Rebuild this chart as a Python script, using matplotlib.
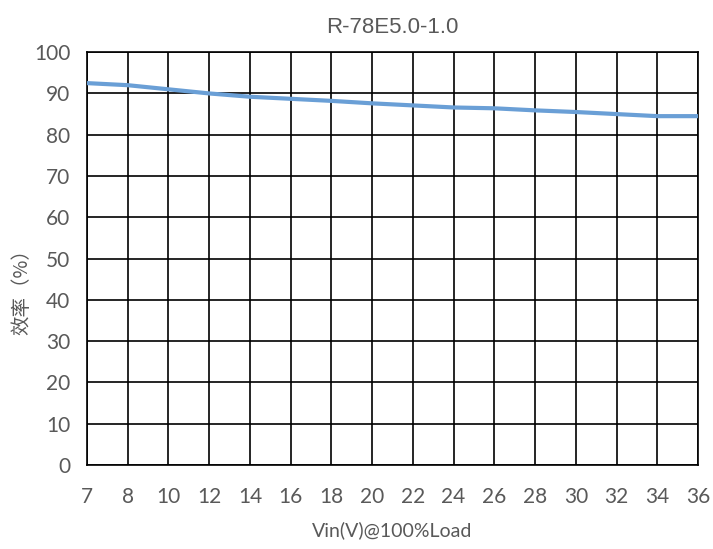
import numpy as np
import matplotlib.pyplot as plt

plt.rcParams['font.family'] = ['Lato', 'Noto Sans CJK SC', 'DejaVu Sans']

# 数据
vin_labels = ['7', '8', '10', '12', '14', '16', '18', '20', '22', '24', '26', '28', '30', '32', '34', '36']
efficiency = [92.5, 92.0, 91.0, 90.0, 89.2, 88.7, 88.2, 87.6, 87.1, 86.6, 86.4, 85.9, 85.5, 85.0, 84.5, 84.5]
y_ticks = list(range(0, 101, 10))

fig = plt.figure(figsize=(7.13, 5.49), dpi=100)
ax = fig.add_axes([0.122, 0.153, 0.857, 0.752])

x = np.arange(len(vin_labels))
ax.plot(x, efficiency, color='#6a9fd6', linewidth=3, solid_capstyle='round', zorder=3)

ax.set_xlim(0, len(vin_labels) - 1)
ax.set_ylim(0, 100)
ax.set_xticks(x)
ax.set_xticklabels(vin_labels)
ax.set_yticks(y_ticks)
ax.grid(True, color='black', linewidth=1.2)
for s in ax.spines.values():
    s.set_color('black')
    s.set_linewidth(1.2)
ax.tick_params(length=0, colors='#595959', labelsize=15, pad=12)
ax.tick_params(axis='x', pad=16)

ax.set_title('R-78E5.0-1.0', color='#595959', fontsize=16, pad=14,
             family=['Liberation Sans', 'DejaVu Sans'])
ax.set_xlabel('Vin(V)@100%Load', color='#595959', fontsize=14, labelpad=10)
ax.set_ylabel('效率（%）', color='#595959', fontsize=14,
              family=['Noto Sans CJK SC', 'DejaVu Sans'])
ax.yaxis.set_label_coords(-0.09, 0.43)

fig.savefig('out.png', dpi=100)
